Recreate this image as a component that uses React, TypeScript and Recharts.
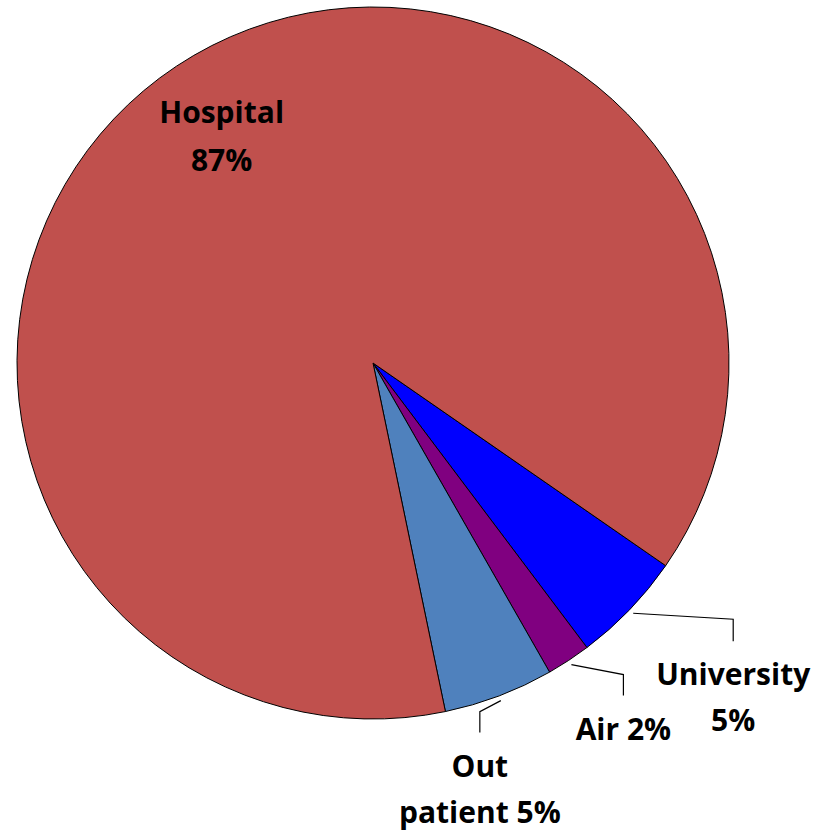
import { PieChart, Pie, Cell } from 'recharts';

// slice order, clockwise from the Hospital/University border
const categories = ['University', 'Air', 'Out patient', 'Hospital'];
const shares = [5.1, 2.0, 5.0, 87.9];
const pctLabels = ['5%', '2%', '5%', '87%'];
const colors = ['#0000FF', '#800080', '#4F81BD', '#C0504D'];

// label styling per slice: words before the line break, leader elbow and drop
const labelLayout = [
  { breakAfter: 1, inside: false, elbow: [100, 6], drop: 22 },
  { breakAfter: 0, inside: false, elbow: [52, 10], drop: 21 },
  { breakAfter: 1, inside: false, elbow: [-21, 11], drop: 21 },
  { breakAfter: 1, inside: true, elbow: [0, 0], drop: 0 },
];

const data = categories.map((name, i) => ({ name, value: shares[i] }));

const RAD = Math.PI / 180;
const FONT = '"Open Sans", sans-serif';

function splitLines(i: number) {
  const words = `${categories[i]} ${pctLabels[i]}`.split(' ');
  const n = labelLayout[i].breakAfter;
  if (n === 0) return [words.join(' ')];
  return [words.slice(0, n).join(' '), words.slice(n).join(' ')];
}

function renderLabel(props: any) {
  const { cx, cy, midAngle, outerRadius, index } = props;
  const lay = labelLayout[index];
  const lines = splitLines(index);
  const cos = Math.cos(-midAngle * RAD);
  const sin = Math.sin(-midAngle * RAD);

  if (lay.inside) {
    const r = outerRadius * 0.77;
    const x = cx + r * cos;
    const y = cy + r * sin;
    return (
      <text key={`lbl-${index}`} textAnchor="middle" fontFamily={FONT} fontWeight={700} fontSize={30} fill="#000">
        {lines.map((t, k) => (
          <tspan key={k} x={x} y={y - 11 + k * 48}>{t}</tspan>
        ))}
      </text>
    );
  }

  const r = outerRadius + 5;
  const x0 = cx + r * cos;
  const y0 = cy + r * sin;
  const x1 = x0 + lay.elbow[0];
  const y1 = y0 + lay.elbow[1];
  const y2 = y1 + lay.drop;
  return (
    <g key={`lbl-${index}`}>
      <polyline points={`${x0},${y0} ${x1},${y1} ${x1},${y2}`} fill="none" stroke="#000" strokeWidth={1.2} />
      <text textAnchor="middle" fontFamily={FONT} fontWeight={700} fontSize={30} fill="#000">
        {lines.map((t, k) => (
          <tspan key={k} x={x1} y={y2 + 44 + k * 46}>{t}</tspan>
        ))}
      </text>
    </g>
  );
}

export default function App() {
  return (
    <div style={{ position: 'absolute', left: 0, top: 0, background: '#fff' }}>
      <PieChart width={830} height={832} margin={{ top: 0, right: 0, bottom: 0, left: 0 }}>
        <Pie
          data={data}
          dataKey="value"
          nameKey="name"
          cx={373}
          cy={363}
          outerRadius={356}
          startAngle={-34.7}
          endAngle={-394.7}
          stroke="#000"
          strokeWidth={1}
          label={renderLabel}
          labelLine={false}
          isAnimationActive={false}
        >
          {data.map((d, i) => (
            <Cell key={d.name} fill={colors[i]} />
          ))}
        </Pie>
      </PieChart>
    </div>
  );
}
